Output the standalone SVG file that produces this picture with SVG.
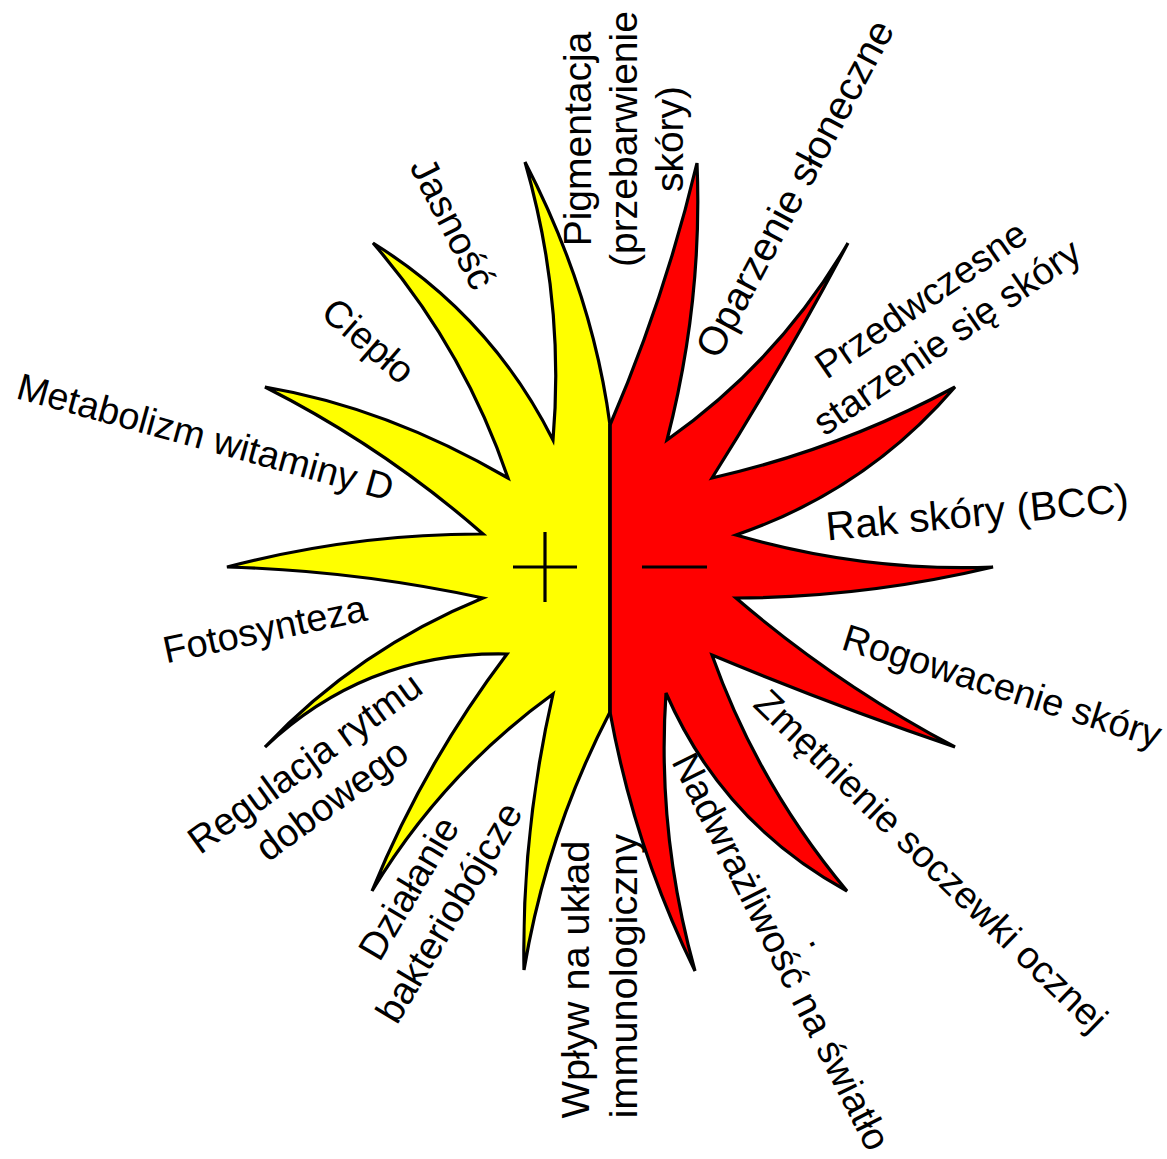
<svg xmlns="http://www.w3.org/2000/svg" width="1167" height="1159" viewBox="0 0 1167 1159">
<style>
.yel{fill:#FFFF00;stroke:#000;stroke-width:3.2;stroke-miterlimit:4}
.red{fill:#FF0000;stroke:#000;stroke-width:3.2;stroke-miterlimit:4}
.ln{stroke:#000;stroke-width:3.2;fill:none}
text{font-family:"Liberation Sans",Arial,sans-serif;fill:#000}
</style>
<rect width="1167" height="1159" fill="#fff"/>
<g id="sun">
<path id="half-plus" class="yel" d="M610,425 Q592.5,292.5 525,162 Q565,301 553,440 Q491,316.5 373,243 Q463.5,347.5 508,478 Q386.5,407.5 265,387 Q383.2,446.7 483,534 Q355,533.5 227,567 Q355,570.5 483,598 Q358,649 265,747 Q367,651 507,654 Q424,763.7 372,891 Q442.5,774 553,694 Q521.5,832 524,970 Q546.6,834.2 610,712 Z"/>
<path id="half-minus" class="red" d="M610,425 Q665,297.8 697,163 Q702.8,301.5 667,440 Q779,361 848,243 Q785,362 712,478 Q839.7,449.1 955,387 Q865.7,490.8 736,535 Q864.5,572 993,567 Q864.5,597.5 736,598 Q837,684.7 955,747 Q832,705 712,655 Q758.3,785 847,891 Q722.7,823 666,693 Q656.5,832 695,971 Q634.5,847.5 610,712 Z"/>
<line class="ln" x1="610" y1="424" x2="610" y2="713"/>
<g id="plus"><line class="ln" x1="513" y1="567" x2="577" y2="567"/><line class="ln" x1="545" y1="532" x2="545" y2="602"/></g>
<g id="minus"><line class="ln" x1="642" y1="567" x2="707" y2="567"/></g>
</g>
<g id="connectors"/>
<g id="labels">
<g id="l-pigmentacja"><text transform="translate(591,139) rotate(-90)" font-size="39" text-anchor="middle"><tspan x="0" y="0">Pigmentacja</tspan><tspan x="0" dy="46">(przebarwienie</tspan><tspan x="0" dy="46">skóry)</tspan></text></g>
<g id="l-jasnosc"><text transform="translate(441,229.5) rotate(63)" font-size="38.5" text-anchor="middle">Jasność</text></g>
<g id="l-cieplo"><text transform="translate(360,350.5) rotate(41)" font-size="38" text-anchor="middle">Ciepło</text></g>
<g id="l-metabolizm"><text transform="translate(202,449.5) rotate(15.4)" font-size="37.8" text-anchor="middle">Metabolizm witaminy D</text></g>
<g id="l-fotosynteza"><text transform="translate(267.5,641.7) rotate(-12.1)" font-size="38" text-anchor="middle">Fotosynteza</text></g>
<g id="l-regulacja"><text transform="translate(312.5,773.4) rotate(-36)" font-size="38.5" text-anchor="middle"><tspan x="0" y="0">Regulacja rytmu</tspan><tspan x="0" dy="46">dobowego</tspan></text></g>
<g id="l-dzialanie"><text transform="translate(420,895) rotate(-59.3)" font-size="38.5" text-anchor="middle"><tspan x="0" y="0">Działanie</tspan><tspan x="0" dy="47">bakteriobójcze</tspan></text></g>
<g id="l-wplyw"><text transform="translate(588.5,1118.5) rotate(-90)" font-size="39.7"><tspan x="0" y="0">Wpływ na układ</tspan><tspan x="0" dy="48.5">immunologiczny</tspan></text></g>
<g id="l-oparzenie"><text transform="translate(806.7,195) rotate(-61.9)" font-size="40" text-anchor="middle">Oparzenie słoneczne</text></g>
<g id="l-przedwczesne"><text transform="translate(928.3,310) rotate(-34.5)" font-size="38" text-anchor="middle"><tspan x="0" y="0">Przedwczesne</tspan><tspan x="0" dy="45.6">starzenie się skóry</tspan></text></g>
<g id="l-rak"><text transform="translate(978.5,526) rotate(-5.5)" font-size="40.5" text-anchor="middle">Rak skóry (BCC)</text></g>
<g id="l-rogowacenie"><text transform="translate(998.2,698.5) rotate(17.5)" font-size="38" text-anchor="middle">Rogowacenie skóry</text></g>
<g id="l-zmetnienie"><text transform="translate(922,870) rotate(44)" font-size="38" text-anchor="middle">Zmętnienie soczewki ocznej</text></g>
<g id="l-nadwrazliwosc"><text transform="translate(769.5,957.4) rotate(63.3)" font-size="38.5" text-anchor="middle">Nadwrażliwość na światło</text><text transform="translate(810.5,945) rotate(63)" font-size="38.5" text-anchor="middle">.</text></g>
</g>
</svg>
